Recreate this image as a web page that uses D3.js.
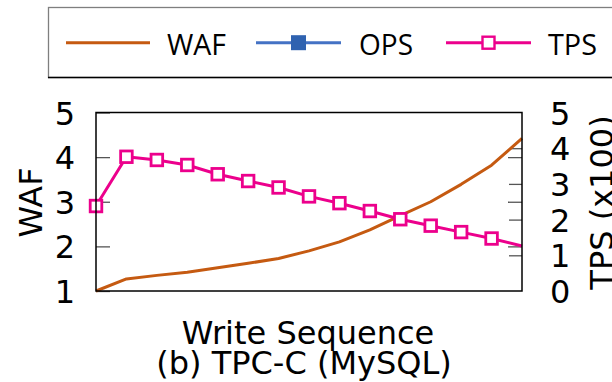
<!DOCTYPE html>
<html>
<head>
<meta charset="utf-8">
<script src="https://cdn.jsdelivr.net/npm/d3@7/dist/d3.min.js"></script>
<style>
  html, body { margin: 0; padding: 0; background: #fff; }
  svg { display: block; }
  .tick text { font-family: "DejaVu Sans", sans-serif; font-size: 32px; fill: #000; }
</style>
</head>
<body>
<svg id="chart" width="612" height="382"></svg>
<script>
// Write sequence samples and the two measured series
const writeSeq = [1, 2, 3, 4, 5, 6, 7, 8, 9, 10, 11, 12, 13, 14, 15];
const waf = [1.00, 1.27, 1.35, 1.42, 1.52, 1.62, 1.73, 1.90, 2.10, 2.37, 2.69, 3.00, 3.39, 3.82, 4.42];
const tps = [2.38, 3.76, 3.67, 3.53, 3.27, 3.08, 2.90, 2.65, 2.46, 2.24, 2.01, 1.83, 1.65, 1.47, 1.26];

const wafTicks = [1, 2, 3, 4, 5];
const tpsTicks = [0, 1, 2, 3, 4, 5];
const legendItems = ["WAF", "OPS", "TPS"];
const xLabel = "Write Sequence";
const caption = "(b) TPC-C (MySQL)";

const colors = { WAF: "#c55a11", OPS: "#4472c4", OPSMarker: "#2f62b0", TPS: "#ec008c" };

const svg = d3.select("#chart");
const frame = { left: 96, right: 522, top: 112.5, bottom: 291 };

const x = d3.scaleLinear().domain(d3.extent(writeSeq)).range([frame.left, frame.right]);
const yWaf = d3.scaleLinear().domain([1, 5]).range([frame.bottom, frame.top]);
const yTps = d3.scaleLinear().domain([0, 5]).range([frame.bottom, frame.top]);
const intFmt = d3.format("d");

// ---- Legend box ----
const legend = svg.append("g");
legend.append("rect")
  .attr("x", 48.5).attr("y", 7.5).attr("width", 580).attr("height", 70)
  .attr("fill", "#fff").attr("stroke", "#7f7f7f").attr("stroke-width", 1.3);
legend.append("line")
  .attr("x1", 48).attr("x2", 612).attr("y1", 77.5).attr("y2", 77.5)
  .attr("stroke", "#000").attr("stroke-width", 1.3);

const legendLayout = [
  { key: "WAF", x0: 66, x1: 150, tx: 167, tw: 59 },
  { key: "OPS", x0: 256, x1: 341, tx: 359, tw: 54 },
  { key: "TPS", x0: 446, x1: 531, tx: 548, tw: 49 }
];
const legendY = 42.7;
legendItems.forEach((name) => {
  const L = legendLayout.find(d => d.key === name);
  legend.append("line")
    .attr("x1", L.x0).attr("x2", L.x1).attr("y1", legendY).attr("y2", legendY)
    .attr("stroke", colors[name]).attr("stroke-width", 3);
  const cx = (L.x0 + L.x1) / 2;
  if (name === "OPS") {
    legend.append("rect")
      .attr("x", cx - 7.5).attr("y", legendY - 7.5).attr("width", 15).attr("height", 15)
      .attr("fill", colors.OPSMarker);
  } else if (name === "TPS") {
    legend.append("rect")
      .attr("x", cx - 6).attr("y", legendY - 6).attr("width", 12).attr("height", 12)
      .attr("fill", "#fff").attr("stroke", colors.TPS).attr("stroke-width", 2.4);
  }
  legend.append("text")
    .attr("x", L.tx).attr("y", 55)
    .attr("font-family", "'Liberation Sans Narrow', 'Open Sans', sans-serif")
    .attr("font-size", 30)
    .attr("textLength", L.tw).attr("lengthAdjust", "spacingAndGlyphs")
    .attr("fill", "#000")
    .text(name);
});

// ---- Axes ----
const leftAxis = svg.append("g")
  .attr("transform", `translate(${frame.left},0)`)
  .call(d3.axisLeft(yWaf).tickValues(wafTicks).tickFormat(intFmt).tickSize(-14).tickPadding(21));
leftAxis.select(".domain").remove();
leftAxis.selectAll(".tick line").attr("stroke", "#555").attr("stroke-width", 1.3);
leftAxis.selectAll(".tick text").attr("dy", "0.36em");

// WAF ticks mirrored on the right edge of the frame
const mirror = svg.append("g")
  .attr("transform", `translate(${frame.right},0)`)
  .call(d3.axisRight(yWaf).tickValues(wafTicks.slice(1, -1)).tickSize(-14).tickFormat(""));
mirror.select(".domain").remove();
mirror.selectAll(".tick line").attr("stroke", "#555").attr("stroke-width", 1.3);

const rightAxis = svg.append("g")
  .attr("transform", `translate(${frame.right},0)`)
  .call(d3.axisRight(yTps).tickValues(tpsTicks).tickFormat(intFmt).tickSize(-13).tickPadding(28));
rightAxis.select(".domain").remove();
rightAxis.selectAll(".tick line")
  .attr("stroke", "#555").attr("stroke-width", 1.3)
  .attr("display", d => (d === 0 || d === 5) ? "none" : null);
rightAxis.selectAll(".tick text").attr("dy", "0.36em");

// ---- Series ----
const wafLine = d3.line().x((d, i) => x(writeSeq[i])).y(d => yWaf(d));
const tpsLine = d3.line().x((d, i) => x(writeSeq[i])).y(d => yTps(d));

svg.append("path").datum(waf)
  .attr("d", wafLine).attr("fill", "none")
  .attr("stroke", colors.WAF).attr("stroke-width", 3).attr("stroke-linejoin", "round");

svg.append("path").datum(tps)
  .attr("d", tpsLine).attr("fill", "none")
  .attr("stroke", colors.TPS).attr("stroke-width", 3).attr("stroke-linejoin", "round");

// the final sample sits on the frame edge and carries no marker
svg.append("g").selectAll("rect")
  .data(tps.slice(0, -1))
  .join("rect")
  .attr("x", (d, i) => x(writeSeq[i]) - 5.8)
  .attr("y", d => yTps(d) - 5.8)
  .attr("width", 11.6).attr("height", 11.6)
  .attr("fill", "#fff").attr("stroke", colors.TPS).attr("stroke-width", 2.8);

// ---- Frame ----
svg.append("rect")
  .attr("x", frame.left).attr("y", frame.top)
  .attr("width", frame.right - frame.left).attr("height", frame.bottom - frame.top)
  .attr("fill", "none").attr("stroke", "#000").attr("stroke-width", 1.5);

// ---- Axis titles ----
const titleFont = "'DejaVu Sans', sans-serif";
svg.append("text")
  .attr("transform", "translate(41.5,202.5) rotate(-90)")
  .attr("text-anchor", "middle")
  .attr("font-family", titleFont).attr("font-size", 32)
  .text("WAF");

svg.append("text")
  .attr("transform", "translate(613,202.5) rotate(-90)")
  .attr("text-anchor", "middle")
  .attr("font-family", titleFont).attr("font-size", 32)
  .text("TPS (x100)");

svg.append("text")
  .attr("x", 308).attr("y", 344)
  .attr("text-anchor", "middle")
  .attr("font-family", titleFont).attr("font-size", 32)
  .text(xLabel);

svg.append("text")
  .attr("x", 304).attr("y", 374)
  .attr("text-anchor", "middle")
  .attr("font-family", titleFont).attr("font-size", 32)
  .text(caption);
</script>
</body>
</html>
